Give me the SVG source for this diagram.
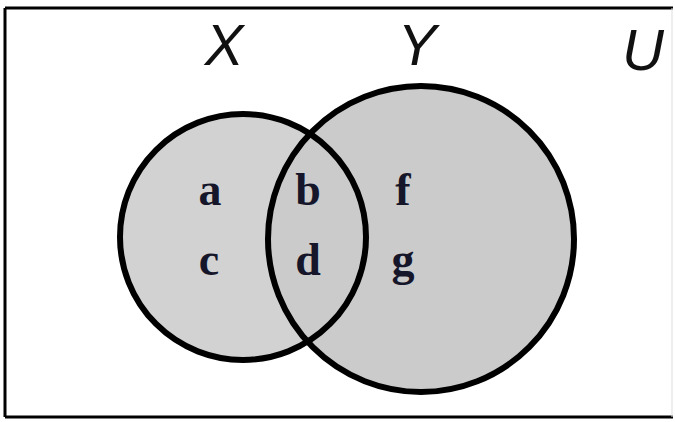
<svg xmlns="http://www.w3.org/2000/svg" width="675" height="422" viewBox="0 0 675 422">
<style>
.lbl{font-family:"Liberation Sans",Arial,sans-serif;font-style:italic;font-size:58px;fill:#111;text-anchor:middle}
.el{font-family:"Liberation Serif","Times New Roman",serif;font-weight:bold;font-size:46px;fill:#16162a;text-anchor:middle}
.ring{fill:none;stroke:#000;stroke-width:6}
</style>
<rect width="675" height="422" fill="#fff"/>
<g id="universe">
<path d="M5 8 H673 M5 8 V417 M5 417 H673" fill="none" stroke="#000" stroke-width="3"/>
<line x1="672" y1="8" x2="672" y2="417" stroke="#ddd" stroke-width="1"/>
<text class="lbl" x="643" y="70">U</text>
</g>
<g id="fills">
<circle cx="243" cy="237" r="123" fill="#d2d2d2"/>
<circle cx="421" cy="239" r="153" fill="#cbcbcb"/>
</g>
<g id="setX">
<circle class="ring" cx="243" cy="237" r="123"/>
<text class="lbl" x="224" y="65">X</text>
</g>
<g id="setY">
<circle class="ring" cx="421" cy="239" r="153"/>
<text class="lbl" x="417" y="65">Y</text>
</g>
<g id="elements">
<text class="el" x="210" y="205">a</text>
<text class="el" x="308" y="205">b</text>
<text class="el" x="209" y="275">c</text>
<text class="el" x="308" y="275">d</text>
<text class="el" x="403" y="205">f</text>
<text class="el" x="403" y="275">g</text>
</g>
<g id="connectors"></g>
</svg>
